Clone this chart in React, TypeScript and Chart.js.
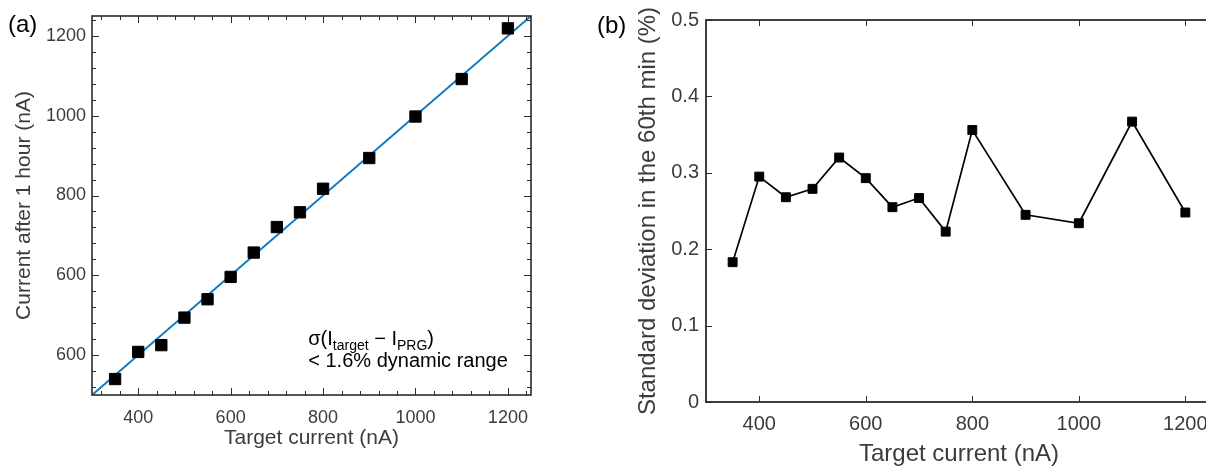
import React, { useEffect, useRef } from 'react';
import { Chart, registerables } from 'chart.js';

Chart.register(...registerables);

// ---------- data ----------
const targetCurrent = [350, 400, 450, 500, 550, 600, 650, 700, 750, 800, 900, 1000, 1100, 1200];
const currentAfterHour = [340, 408, 425, 494, 540, 596, 657, 721, 758, 817, 894, 998, 1092, 1219];
const stdDev60 = [0.183, 0.295, 0.268, 0.279, 0.32, 0.293, 0.255, 0.267, 0.223, 0.356, 0.245, 0.234, 0.367, 0.248];
const fitX = [300, 1250];
const fitY = [300, 1250];

const xTickValues = [400, 600, 800, 1000, 1200];
const xTickLabels = ['400', '600', '800', '1000', '1200'];
const yTickValuesA = [400, 600, 800, 1000, 1200];
const yTickLabelsA = ['600', '600', '800', '1000', '1200'];
const yTickValuesB = [0, 0.1, 0.2, 0.3, 0.4, 0.5];
const yTickLabelsB = ['0', '0.1', '0.2', '0.3', '0.4', '0.5'];
const minorStepA = 40;

// ---------- styles ----------
const FONT = '"Liberation Sans", Arial, Helvetica, sans-serif';
const TEXT_GRAY = '#3c3c3c';
const AXIS_COLOR = '#2b2b2b';
const FIT_BLUE = '#1178c2';

function seg(ctx: CanvasRenderingContext2D, x1: number, y1: number, x2: number, y2: number) {
  ctx.beginPath();
  ctx.moveTo(x1, y1);
  ctx.lineTo(x2, y2);
  ctx.stroke();
}

const frameA = {
  id: 'frameA',
  afterDraw(chart: any) {
    const { ctx, chartArea, scales } = chart;
    const { left, right, top, bottom } = chartArea;
    const x = scales.x;
    const y = scales.y;
    ctx.save();
    ctx.strokeStyle = AXIS_COLOR;
    ctx.lineWidth = 1;
    // minor + major ticks
    for (let v = Math.ceil(x.min / minorStepA) * minorStepA; v <= x.max; v += minorStepA) {
      const px = Math.round(x.getPixelForValue(v)) + 0.5;
      const len = xTickValues.includes(v) ? 7 : 4;
      seg(ctx, px, bottom, px, bottom - len);
      seg(ctx, px, top, px, top + len);
    }
    for (let v = Math.ceil(y.min / minorStepA) * minorStepA; v <= y.max; v += minorStepA) {
      const py = Math.round(y.getPixelForValue(v)) + 0.5;
      const len = yTickValuesA.includes(v) ? 7 : 4;
      seg(ctx, left, py, left + len, py);
      seg(ctx, right, py, right - len, py);
    }
    ctx.lineWidth = 1.6;
    ctx.strokeRect(left, top, right - left, bottom - top);

    // panel label
    ctx.fillStyle = '#000';
    ctx.font = `24px ${FONT}`;
    ctx.textBaseline = 'alphabetic';
    ctx.textAlign = 'left';
    ctx.fillText('(a)', 8, 32);

    // annotation
    const ax = x.getPixelForValue(768);
    const ay1 = y.getPixelForValue(425);
    const ay2 = y.getPixelForValue(370);
    const big = `20px ${FONT}`;
    const small = `14px ${FONT}`;
    let cx = ax;
    const parts: [string, string, number][] = [
      ['σ(I', big, 0],
      ['target', small, 5],
      [' − I', big, 0],
      ['PRG', small, 5],
      [')', big, 0],
    ];
    for (const [t, f, dy] of parts) {
      ctx.font = f;
      ctx.fillText(t, cx, ay1 + dy);
      cx += ctx.measureText(t).width;
    }
    ctx.font = big;
    ctx.fillText('< 1.6% dynamic range', ax, ay2);
    ctx.restore();
  },
};

const frameB = {
  id: 'frameB',
  afterDraw(chart: any) {
    const { ctx, chartArea, scales } = chart;
    const { left, right, top, bottom } = chartArea;
    const x = scales.x;
    const y = scales.y;
    ctx.save();
    ctx.strokeStyle = AXIS_COLOR;
    ctx.lineWidth = 1;
    for (const v of xTickValues) {
      const px = Math.round(x.getPixelForValue(v)) + 0.5;
      seg(ctx, px, bottom, px, bottom - 6);
      seg(ctx, px, top, px, top + 6);
    }
    for (const v of yTickValuesB) {
      const py = Math.round(y.getPixelForValue(v)) + 0.5;
      seg(ctx, left, py, left + 6, py);
      seg(ctx, right, py, right - 6, py);
    }
    ctx.lineWidth = 1.8;
    ctx.strokeRect(left, top, right - left, bottom - top);

    ctx.fillStyle = '#000';
    ctx.font = `24px ${FONT}`;
    ctx.textBaseline = 'alphabetic';
    ctx.textAlign = 'left';
    ctx.fillText('(b)', 7, 33);
    ctx.restore();
  },
};

function PanelA() {
  const ref = useRef<HTMLCanvasElement>(null);
  useEffect(() => {
    if (!ref.current) return;
    const chart = new Chart(ref.current, {
      type: 'scatter',
      data: {
        datasets: [
          {
            type: 'scatter',
            data: targetCurrent.map((v, i) => ({ x: v, y: currentAfterHour[i] })),
            pointStyle: 'rect',
            pointRadius: 8,
            pointBackgroundColor: '#000',
            pointBorderColor: '#000',
            pointBorderWidth: 1,
            showLine: false,
          } as any,
          {
            type: 'line',
            data: fitX.map((v, i) => ({ x: v, y: fitY[i] })),
            borderColor: FIT_BLUE,
            borderWidth: 2,
            pointRadius: 0,
            fill: false,
          } as any,
        ],
      },
      options: {
        responsive: false,
        animation: false,
        devicePixelRatio: 1,
        events: [],
        layout: { padding: { left: 0, top: 16, right: 29, bottom: 0 } },
        plugins: { legend: { display: false }, tooltip: { enabled: false } },
        scales: {
          x: {
            type: 'linear',
            position: 'bottom',
            min: 300,
            max: 1250,
            afterBuildTicks: (s: any) => {
              s.ticks = xTickValues.map((v) => ({ value: v }));
            },
            afterFit: (s: any) => {
              s.height = 85;
              s.paddingLeft = 0;
              s.paddingRight = 0;
            },
            grid: { display: false, drawTicks: false },
            border: { display: false },
            ticks: {
              autoSkip: false,
              maxRotation: 0,
              padding: 12,
              color: TEXT_GRAY,
              font: { family: FONT, size: 18 },
              callback: (_v: any, i: number) => xTickLabels[i],
            },
            title: {
              display: true,
              text: 'Target current (nA)',
              color: TEXT_GRAY,
              font: { family: FONT, size: 21 },
              padding: { top: 0, bottom: 29 },
            },
          },
          y: {
            type: 'linear',
            position: 'left',
            min: 300,
            max: 1250,
            afterBuildTicks: (s: any) => {
              s.ticks = yTickValuesA.map((v) => ({ value: v }));
            },
            afterFit: (s: any) => {
              s.width = 92;
              s.paddingTop = 0;
              s.paddingBottom = 0;
            },
            grid: { display: false, drawTicks: false },
            border: { display: false },
            ticks: {
              autoSkip: false,
              padding: 6,
              color: TEXT_GRAY,
              font: { family: FONT, size: 18 },
              callback: (_v: any, i: number) => yTickLabelsA[i],
            },
            title: {
              display: true,
              text: 'Current after 1 hour (nA)',
              color: TEXT_GRAY,
              font: { family: FONT, size: 21 },
              padding: { top: 12, bottom: 0 },
            },
          },
        },
      } as any,
      plugins: [frameA],
    });
    return () => chart.destroy();
  }, []);
  return (
    <canvas
      ref={ref}
      width={560}
      height={480}
      style={{ position: 'absolute', left: 0, top: 0, width: 560, height: 480 }}
    />
  );
}

function PanelB() {
  const ref = useRef<HTMLCanvasElement>(null);
  useEffect(() => {
    if (!ref.current) return;
    const chart = new Chart(ref.current, {
      type: 'line',
      data: {
        datasets: [
          {
            data: targetCurrent.map((v, i) => ({ x: v, y: stdDev60[i] })),
            borderColor: '#000',
            borderWidth: 1.7,
            pointStyle: 'rect',
            pointRadius: 6.3,
            pointBackgroundColor: '#000',
            pointBorderColor: '#000',
            pointBorderWidth: 1,
            fill: false,
            tension: 0,
          } as any,
        ],
      },
      options: {
        responsive: false,
        animation: false,
        devicePixelRatio: 1,
        events: [],
        layout: { padding: { left: 0, top: 20, right: 18, bottom: 0 } },
        plugins: { legend: { display: false }, tooltip: { enabled: false } },
        scales: {
          x: {
            type: 'linear',
            position: 'bottom',
            min: 300,
            max: 1250,
            afterBuildTicks: (s: any) => {
              s.ticks = xTickValues.map((v) => ({ value: v }));
            },
            afterFit: (s: any) => {
              s.height = 78;
              s.paddingLeft = 0;
              s.paddingRight = 0;
            },
            grid: { display: false, drawTicks: false },
            border: { display: false },
            ticks: {
              autoSkip: false,
              maxRotation: 0,
              padding: 10,
              color: TEXT_GRAY,
              font: { family: FONT, size: 20 },
              callback: (_v: any, i: number) => xTickLabels[i],
            },
            title: {
              display: true,
              text: 'Target current (nA)',
              color: TEXT_GRAY,
              font: { family: FONT, size: 24 },
              padding: { top: 0, bottom: 11 },
            },
          },
          y: {
            type: 'linear',
            position: 'left',
            min: 0,
            max: 0.5,
            afterBuildTicks: (s: any) => {
              s.ticks = yTickValuesB.map((v) => ({ value: v }));
            },
            afterFit: (s: any) => {
              s.width = 116;
              s.paddingTop = 0;
              s.paddingBottom = 0;
            },
            grid: { display: false, drawTicks: false },
            border: { display: false },
            ticks: {
              autoSkip: false,
              padding: 7,
              color: TEXT_GRAY,
              font: { family: FONT, size: 20 },
              callback: (_v: any, i: number) => yTickLabelsB[i],
            },
            title: {
              display: true,
              text: 'Standard deviation in the 60th min (%)',
              color: TEXT_GRAY,
              font: { family: FONT, size: 24 },
              padding: { top: 44, bottom: 0 },
            },
          },
        },
      } as any,
      plugins: [frameB],
    });
    return () => chart.destroy();
  }, []);
  return (
    <canvas
      ref={ref}
      width={640}
      height={480}
      style={{ position: 'absolute', left: 590, top: 0, width: 640, height: 480 }}
    />
  );
}

export default function App() {
  return (
    <div
      style={{
        position: 'fixed',
        left: 0,
        top: 0,
        width: 1206,
        height: 466,
        overflow: 'hidden',
        background: '#fff',
      }}
    >
      <PanelA />
      <PanelB />
    </div>
  );
}
